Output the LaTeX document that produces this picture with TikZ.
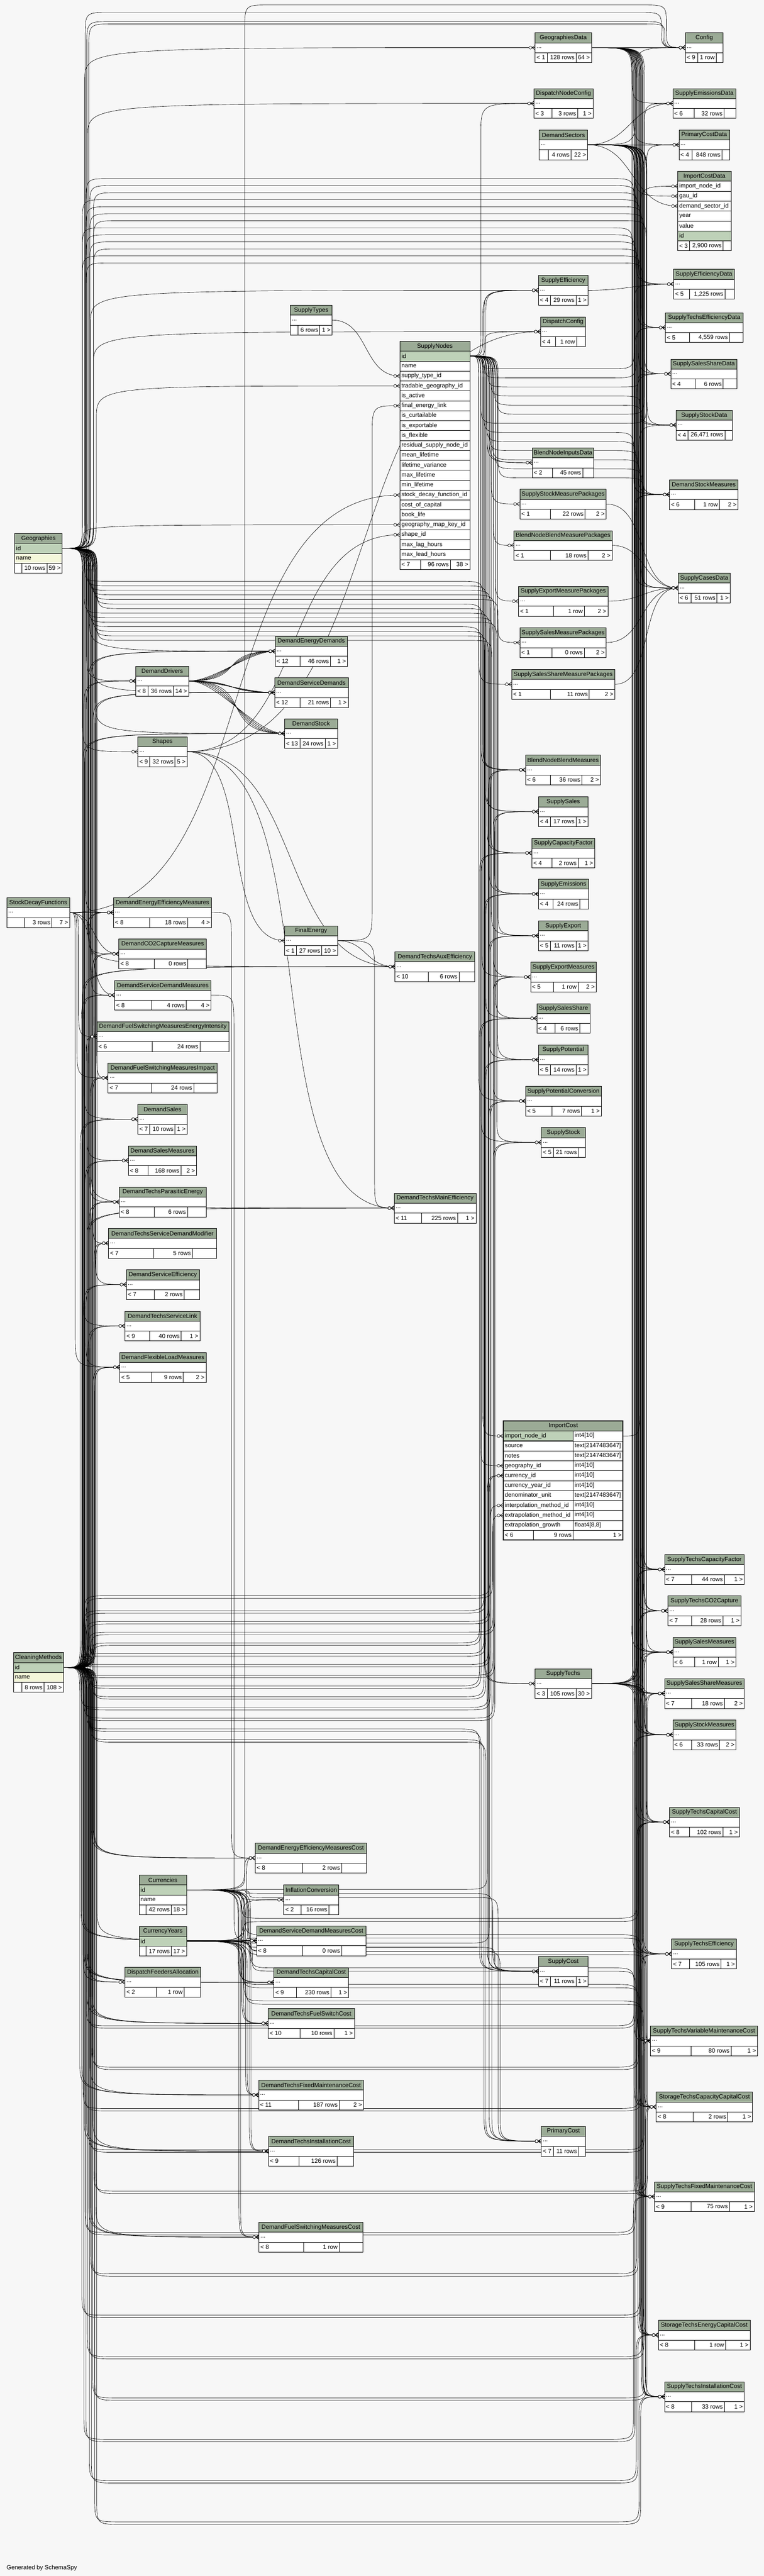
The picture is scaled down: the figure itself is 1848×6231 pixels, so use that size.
\documentclass[tikz,border=0pt]{standalone}
\usepackage{fontspec}
\setmainfont{Liberation Sans}
\usetikzlibrary{calc}
\definecolor{hdr}{HTML}{9BAB96}
\definecolor{pkey}{HTML}{BED1B8}
\definecolor{idx}{HTML}{F4F7DA}
\definecolor{paper}{HTML}{F7F7F7}
\pgfdeclarelayer{bg}
\pgfdeclarelayer{links}
\pgfsetlayers{bg,links,main}
\newcommand{\tabfont}{\fontsize{14.5}{17}\selectfont}
\tikzset{
  cell/.style={draw, line width=0.9pt, inner sep=0pt, minimum height=24pt, anchor=north west},
  txt/.style={inner sep=0pt},
  link/.style={line width=0.8pt},
  crow/.pic={\draw[link, fill=white] (-11,0) circle[radius=3.5pt];
             \draw[link] (-7.5,0) -- (0,-5) (-7.5,0) -- (0,0) (-7.5,0) -- (0,5);}
}
% one cell: name, x1, x2, top, fill
\newcommand{\tcell}[5]{%
  \pgfmathsetmacro\cw{#3-#2}%
  \node[cell, fill=#5, minimum width=\cw pt] (#1) at (#2,#4) {};}
% header: name, x1, x2, top
\newcommand{\thead}[4]{%
  \pgfmathsetmacro\cw{#3-#2}%
  \node[cell, fill=hdr, minimum width=\cw pt] (#1-head) at (#2,#4) {#1};}
% column row: name, x1, x2, top, fill, text
\newcommand{\trow}[6]{%
  \tcell{#1}{#2}{#3}{#4}{#5}%
  \node[txt, anchor=west] (#1-t) at ([xshift=4pt]#1.west) {#6};}
% footer: name, x1, d1, d2, x2, top, left, rows, right
\newcommand{\tfoot}[9]{%
  \tcell{#1-f1}{#2}{#3}{#6}{white}%
  \tcell{#1-f2}{#3}{#4}{#6}{white}%
  \tcell{#1-f3}{#4}{#5}{#6}{white}%
  \node[txt, anchor=west] (#1-fl) at ([xshift=4pt]#1-f1.west) {#7};%
  \node[txt, anchor=east] (#1-fm) at ([xshift=-4pt]#1-f2.east) {#8};%
  \node[txt, anchor=east] (#1-fr) at ([xshift=-4pt]#1-f3.east) {#9};}
% collapsed table: name, x1, top, x2, d1, d2, left, rows, right
\newcommand{\tbl}[9]{%
  \pgfmathsetmacro\cw{#4-#2}%
  \node[inner sep=0pt, minimum width=\cw pt, minimum height=72pt, anchor=north west] (#1) at (#2,#3) {};%
  \thead{#1}{#2}{#4}{#3}%
  \trow{#1-body}{#2}{#4}{#3+24}{white}{...}%
  \tfoot{#1}{#2}{#5}{#6}{#4}{#3+48}{#7}{#8}{#9}}
% link through one vertical bundle at x = #3
\newcommand{\fk}[3]{%
  \draw[link] let \p1=(#1), \p2=(#2),
      \n1={ifthenelse(\y2<\y1,-1,1)*min(80,abs(\y2-\y1)/2)} in
    (#1) .. controls (#3pt,\y1) .. (#3pt,{\y1+(\n1)})
    -- (#3pt,{\y2-(\n1)}) .. controls (#3pt,\y2) .. (#2);
  \path (#2) pic {crow};}
% link through two bundles (#3, #4), crossing over at height #5
\newcommand{\fkk}[5]{%
  \draw[link] let \p1=(#1), \p2=(#2),
      \n1={-#5*1pt-\y1},
      \n2={ifthenelse(\n1<0,-1,1)*min(60,abs(\n1)/2)},
      \n3={ifthenelse(\y2-\y1-(\n1)<0,-1,1)*min(60,abs(\y2-\y1-(\n1))/2)} in
    (#1) .. controls (#3pt,\y1) .. (#3pt,{\y1+(\n2)})
    -- (#3pt,{\y1+(\n1)-(\n2)}) .. controls (#3pt,{\y1+(\n1)}) .. ({#3pt+60pt},{\y1+(\n1)})
    -- ({#4pt-60pt},{\y1+(\n1)}) .. controls (#4pt,{\y1+(\n1)}) .. (#4pt,{\y1+(\n1)+(\n3)})
    -- (#4pt,{\y2-(\n3)}) .. controls (#4pt,\y2) .. (#2);
  \path (#2) pic {crow};}
% direct link
\newcommand{\fkc}[3][1]{%
  \draw[link] let \p1=(#2), \p2=(#3),
      \n1={#1*max(40,0.45*abs(\x2-\x1)+0.12*abs(\y2-\y1))} in
    (#2) .. controls +({\n1*1pt},0pt) and +({-\n1*1pt},0pt) .. (#3);
  \path (#3) pic {crow};}

\begin{document}
\begin{tikzpicture}[x=1pt, y=-1pt, every node/.style={font=\tabfont}]
  \useasboundingbox (0,0) rectangle (1848,6231);
  \begin{pgfonlayer}{bg}
    \fill[paper] (0,0) rectangle (1848,6231);
  \end{pgfonlayer}

  % place tables
  \thead{Geographies}{35}{150}{1290}
  \trow{Geographies-r1}{35}{150}{1314}{pkey}{id}
  \trow{Geographies-r2}{35}{150}{1338}{idx}{name}
  \tfoot{Geographies}{35}{52}{113}{150}{1362}{}{10 rows}{59 >}

  \thead{CleaningMethods}{32}{153}{3997}
  \trow{CleaningMethods-r1}{32}{153}{4021}{pkey}{id}
  \trow{CleaningMethods-r2}{32}{153}{4045}{idx}{name}
  \tfoot{CleaningMethods}{32}{52}{106}{153}{4069}{}{8 rows}{108 >}

  \thead{Currencies}{336}{451}{4535}
  \trow{Currencies-r1}{336}{451}{4559}{pkey}{id}
  \trow{Currencies-r2}{336}{451}{4583}{white}{name}
  \tfoot{Currencies}{336}{353}{414}{451}{4607}{}{42 rows}{18 >}

  \thead{CurrencyYears}{336}{451}{4659}
  \trow{CurrencyYears-r1}{336}{451}{4683}{pkey}{id}
  \tfoot{CurrencyYears}{336}{353}{414}{451}{4707}{}{17 rows}{17 >}

  \thead{SupplyNodes}{967}{1136}{825}
  \trow{SupplyNodes-r1}{967}{1136}{849}{pkey}{id}
  \foreach \fld [count=\i from 2, evaluate={\i as \yy using 825+24*\i}] in {name, supply\_type\_id,
      tradable\_geography\_id, is\_active, final\_energy\_link, is\_curtailable, is\_exportable,
      is\_flexible, residual\_supply\_node\_id, mean\_lifetime, lifetime\_variance, max\_lifetime,
      min\_lifetime, stock\_decay\_function\_id, cost\_of\_capital, book\_life,
      geography\_map\_key\_id, shape\_id, max\_lag\_hours, max\_lead\_hours}
    {\trow{SupplyNodes-r\i}{967}{1136}{\yy}{white}{\fld}}
  \tfoot{SupplyNodes}{967}{1017}{1089}{1136}{1353}{< 7}{96 rows}{38 >}

  \thead{ImportCost}{1217}{1507}{3437}
  \tcell{ImportCost-r1}{1217}{1507}{3461}{white}
  \draw[line width=0.9pt, fill=pkey] (1217,3461) rectangle (1386,3485);
  \node[txt, anchor=west] (ImportCost-r1-t) at ([xshift=4pt]ImportCost-r1.west) {import\_node\_id};
  \node[txt, anchor=west] (ImportCost-r1-y) at (1390,3473) {int4[10]};
  \foreach \fld/\typ [count=\i from 2, evaluate={\i as \yy using 3437+24*\i}] in {source/text[2147483647],
      notes/text[2147483647], geography\_id/int4[10], currency\_id/int4[10],
      currency\_year\_id/int4[10], denominator\_unit/text[2147483647],
      interpolation\_method\_id/int4[10], extrapolation\_method\_id/int4[10],
      extrapolation\_growth/{float4[8,8]}}
    {\trow{ImportCost-r\i}{1217}{1507}{\yy}{white}{\fld}
     \draw[line width=0.9pt] (1386,\yy) -- (1386,\yy+24);
     \node[txt, anchor=west] (ImportCost-r\i-y) at (1390,\yy+12) {\typ};}
  \tfoot{ImportCost}{1217}{1290}{1386}{1507}{3701}{< 6}{9 rows}{1 >}
  \draw[line width=2.5pt] (1217,3437) rectangle (1507,3725);

  \thead{ImportCostData}{1639}{1768}{414}
  \foreach \fld [count=\i, evaluate={\i as \yy using 414+24*\i}] in {import\_node\_id, gau\_id,
      demand\_sector\_id, year, value}
    {\trow{ImportCostData-r\i}{1639}{1768}{\yy}{white}{\fld}}
  \trow{ImportCostData-r6}{1639}{1768}{558}{pkey}{id}
  \tfoot{ImportCostData}{1639}{1668}{1749}{1768}{582}{< 3}{2,900 rows}{}

  \tbl{GeographiesData}{1294}{79}{1430}{1323}{1393}{< 1}{128 rows}{64 >}
  \tbl{Config}{1657}{79}{1749}{1687}{1732}{< 9}{1 row}{}
  \tbl{DispatchNodeConfig}{1291}{214}{1434}{1335}{1397}{< 3}{3 rows}{1 >}
  \tbl{SupplyEmissionsData}{1627}{214}{1780}{1679}{1751}{< 6}{32 rows}{}
  \tbl{DemandSectors}{1304}{314}{1421}{1326}{1381}{}{4 rows}{22 >}
  \tbl{PrimaryCostData}{1642}{314}{1764}{1674}{1746}{< 4}{848 rows}{}
  \tbl{SupplyEfficiencyData}{1629}{651}{1776}{1668}{1753}{< 5}{1,225 rows}{}
  \tbl{SupplyEfficiency}{1302}{666}{1422}{1331}{1393}{< 4}{29 rows}{1 >}
  \tbl{SupplyTechsEfficiencyData}{1609}{756}{1797}{1668}{1764}{< 5}{4,559 rows}{}
  \tbl{DispatchConfig}{1307}{766}{1416}{1344}{1394}{< 4}{1 row}{}
  \tbl{SupplySalesShareData}{1622}{868}{1782}{1681}{1749}{< 4}{6 rows}{}
  \tbl{SupplyStockData}{1635}{992}{1771}{1664}{1753}{< 4}{26,471 rows}{}
  \tbl{BlendNodeInputsData}{1287}{1083}{1436}{1336}{1409}{< 2}{45 rows}{}
  \tbl{DemandStockMeasures}{1619}{1160}{1785}{1680}{1740}{< 6}{1 row}{2 >}
  \tbl{SupplyStockMeasurePackages}{1257}{1183}{1466}{1331}{1415}{< 1}{22 rows}{2 >}
  \tbl{BlendNodeBlendMeasurePackages}{1243}{1283}{1480}{1331}{1422}{< 1}{18 rows}{2 >}
  \tbl{SupplyCasesData}{1640}{1386}{1766}{1671}{1734}{< 6}{51 rows}{1 >}
  \tbl{SupplyExportMeasurePackages}{1254}{1418}{1470}{1339}{1413}{< 1}{1 row}{2 >}
  \tbl{SupplySalesMeasurePackages}{1257}{1518}{1466}{1335}{1413}{< 1}{0 rows}{2 >}
  \tbl{SupplySalesShareMeasurePackages}{1237}{1619}{1487}{1331}{1425}{< 1}{11 rows}{2 >}
  \tbl{BlendNodeBlendMeasures}{1271}{1826}{1452}{1331}{1407}{< 6}{36 rows}{2 >}
  \tbl{SupplySales}{1302}{1927}{1422}{1331}{1393}{< 4}{17 rows}{1 >}
  \tbl{SupplyCapacityFactor}{1286}{2027}{1438}{1335}{1398}{< 4}{2 rows}{1 >}
  \tbl{SupplyEmissions}{1302}{2126}{1423}{1337}{1402}{< 4}{24 rows}{}
  \tbl{SupplyExport}{1302}{2227}{1422}{1331}{1393}{< 5}{11 rows}{1 >}
  \tbl{SupplyExportMeasures}{1283}{2327}{1442}{1339}{1398}{< 5}{1 row}{2 >}
  \tbl{SupplySalesShare}{1298}{2427}{1427}{1342}{1402}{< 4}{6 rows}{}
  \tbl{SupplyPotential}{1302}{2527}{1422}{1331}{1393}{< 5}{14 rows}{1 >}
  \tbl{SupplyPotentialConversion}{1271}{2627}{1454}{1335}{1406}{< 5}{7 rows}{1 >}
  \tbl{SupplyStock}{1309}{2727}{1416}{1338}{1399}{< 5}{21 rows}{}
  \tbl{SupplyTechsCapacityFactor}{1607}{3760}{1800}{1672}{1752}{< 7}{44 rows}{1 >}
  \tbl{SupplyTechsCO2Capture}{1615}{3860}{1792}{1672}{1748}{< 7}{28 rows}{1 >}
  \tbl{SupplySalesMeasures}{1627}{3960}{1780}{1680}{1737}{< 6}{1 row}{1 >}
  \tbl{SupplyTechs}{1294}{4036}{1430}{1323}{1393}{< 3}{105 rows}{30 >}
  \tbl{SupplySalesShareMeasures}{1607}{4060}{1800}{1672}{1752}{< 7}{18 rows}{2 >}
  \tbl{SupplyStockMeasures}{1627}{4160}{1780}{1672}{1740}{< 6}{33 rows}{2 >}
  \tbl{SupplyTechsCapitalCost}{1619}{4371}{1788}{1668}{1748}{< 8}{102 rows}{1 >}
  \tbl{SupplyTechsEfficiency}{1624}{4690}{1781}{1668}{1744}{< 7}{105 rows}{1 >}
  \tbl{SupplyCost}{1302}{4732}{1422}{1331}{1393}{< 7}{11 rows}{1 >}
  \tbl{SupplyTechsVariableMaintenanceCost}{1573}{4900}{1832}{1671}{1768}{< 9}{80 rows}{1 >}
  \tbl{StorageTechsCapacityCapitalCost}{1587}{5060}{1820}{1676}{1760}{< 8}{2 rows}{1 >}
  \tbl{PrimaryCost}{1309}{5143}{1416}{1338}{1399}{< 7}{11 rows}{}
  \tbl{SupplyTechsFixedMaintenanceCost}{1583}{5277}{1824}{1671}{1764}{< 9}{75 rows}{1 >}
  \tbl{StorageTechsEnergyCapitalCost}{1592}{5612}{1814}{1680}{1755}{< 8}{1 row}{1 >}
  \tbl{SupplyTechsInstallationCost}{1607}{5761}{1800}{1672}{1752}{< 8}{33 rows}{1 >}
  \tbl{DemandTechsAuxEfficiency}{955}{2302}{1148}{1035}{1110}{< 10}{6 rows}{}
  \tbl{DemandTechsMainEfficiency}{953}{2886}{1151}{1020}{1106}{< 11}{225 rows}{1 >}
  \tbl{SupplyTypes}{702}{738}{803}{720}{773}{}{6 rows}{1 >}
  \tbl{DemandEnergyDemands}{665}{1539}{840}{725}{799}{< 12}{46 rows}{1 >}
  \tbl{DemandServiceDemands}{664}{1639}{842}{725}{799}{< 12}{21 rows}{1 >}
  \tbl{DemandStock}{688}{1738}{816}{725}{786}{< 13}{24 rows}{1 >}
  \tbl{FinalEnergy}{688}{2239}{816}{717}{778}{< 1}{27 rows}{10 >}
  \tbl{DemandEnergyEfficiencyMeasuresCost}{617}{4458}{886}{731}{826}{< 8}{2 rows}{}
  \tbl{InflationConversion}{686}{4559}{819}{728}{795}{< 2}{16 rows}{}
  \tbl{DemandServiceDemandMeasuresCost}{620}{4658}{885}{732}{826}{< 8}{0 rows}{}
  \tbl{DemandTechsCapitalCost}{662}{4759}{843}{717}{800}{< 9}{230 rows}{1 >}
  \tbl{DemandTechsFuelSwitchCost}{648}{4858}{857}{725}{807}{< 10}{10 rows}{1 >}
  \tbl{DemandTechsFixedMaintenanceCost}{625}{5031}{879}{721}{820}{< 11}{187 rows}{2 >}
  \tbl{DemandTechsInstallationCost}{649}{5167}{855}{723}{815}{< 9}{126 rows}{}
  \tbl{DemandFuelSwitchingMeasuresCost}{626}{5375}{877}{734}{820}{< 8}{1 row}{}
  \tbl{DemandDrivers}{328}{1611}{456}{358}{419}{< 8}{36 rows}{14 >}
  \tbl{Shapes}{333}{1782}{452}{362}{423}{< 9}{32 rows}{5 >}
  \tbl{DemandEnergyEfficiencyMeasures}{274}{2171}{511}{362}{453}{< 8}{18 rows}{4 >}
  \tbl{DemandCO2CaptureMeasures}{287}{2271}{499}{373}{454}{< 8}{0 rows}{}
  \tbl{DemandServiceDemandMeasures}{277}{2371}{510}{366}{450}{< 8}{4 rows}{4 >}
  \tbl{DemandFuelSwitchingMeasuresEnergyIntensity}{234}{2471}{553}{368}{483}{< 6}{24 rows}{}
  \tbl{DemandFuelSwitchingMeasuresImpact}{261}{2571}{525}{367}{468}{< 7}{24 rows}{}
  \tbl{DemandSales}{333}{2671}{452}{362}{423}{< 7}{10 rows}{1 >}
  \tbl{DemandSalesMeasures}{310}{2771}{475}{358}{437}{< 8}{168 rows}{2 >}
  \tbl{DemandTechsParasiticEnergy}{288}{2871}{498}{373}{453}{< 8}{6 rows}{}
  \tbl{DemandTechsServiceDemandModifier}{262}{2971}{523}{371}{465}{< 7}{5 rows}{}
  \tbl{DemandServiceEfficiency}{305}{3071}{482}{373}{445}{< 7}{2 rows}{}
  \tbl{DemandTechsServiceLink}{302}{3171}{483}{362}{438}{< 9}{40 rows}{1 >}
  \tbl{DemandFlexibleLoadMeasures}{289}{3271}{498}{366}{443}{< 5}{9 rows}{2 >}
  \tbl{DispatchFeedersAllocation}{302}{4758}{485}{377}{445}{< 2}{1 row}{}
  \tbl{StockDecayFunctions}{16}{2171}{168}{59}{125}{}{3 rows}{7 >}

  \node[txt, anchor=west] (credit) at (16,6211) {Generated by SchemaSpy};

  % draw links
  \begin{pgfonlayer}{links}
  % Geographies
  \foreach \ch [count=\i, evaluate={\i as \tx using 198+mod(7*\i,38)}] in {GeographiesData.west,
      DispatchNodeConfig.west, SupplyEfficiency.west, DispatchConfig.west,
      SupplyNodes-r4.west, SupplyNodes-r18.west, DemandDrivers.west, DemandEnergyDemands.west,
      DemandServiceDemands.west, DemandStock.west, Shapes.west,
      DemandEnergyEfficiencyMeasures.west, DemandCO2CaptureMeasures.west,
      DemandServiceDemandMeasures.west, DemandFuelSwitchingMeasuresEnergyIntensity.west,
      DemandFuelSwitchingMeasuresImpact.west, DemandSales.west, DemandSalesMeasures.west,
      DemandTechsParasiticEnergy.west, DemandTechsServiceDemandModifier.west,
      DemandServiceEfficiency.west, DemandTechsServiceLink.west, DemandFlexibleLoadMeasures.west,
      DemandTechsAuxEfficiency.west, DemandTechsMainEfficiency.west,
      DemandEnergyEfficiencyMeasuresCost.west, DemandServiceDemandMeasuresCost.west,
      DemandTechsCapitalCost.west, DemandTechsFuelSwitchCost.west,
      DemandTechsFixedMaintenanceCost.west, DemandTechsInstallationCost.west,
      DemandFuelSwitchingMeasuresCost.west, DispatchFeedersAllocation.west}
    {\fk{Geographies-r1.east}{\ch}{\tx}}
  \fkk{Geographies-r1.east}{Config.west}{206}{1600}{30}
  \foreach \ch [count=\i, evaluate={\i as \tx using 200+mod(5*\i,36)},
      evaluate={\i as \ty using 1160+mod(9*\i,48)},
      evaluate={\i as \ry using 1395+11*\i}] in {BlendNodeBlendMeasures.west,
      SupplySales.west, SupplyCapacityFactor.west, SupplyEmissions.west, SupplyExport.west,
      SupplyExportMeasures.west, SupplySalesShare.west, SupplyPotential.west,
      SupplyPotentialConversion.west, SupplyStock.west, ImportCost-r4.west, SupplyTechs.west,
      SupplyCost.west, PrimaryCost.west}
    {\fkk{Geographies-r1.east}{\ch}{\tx}{\ty}{\ry}}
  \foreach \ch [count=\i, evaluate={\i as \tx using 199+mod(9*\i,36)},
      evaluate={\i as \ty using 1528+mod(5*\i,38)},
      evaluate={\i as \ry using 415+17*\i}] in {DemandStockMeasures.west,
      SupplyTechsCapacityFactor.west, SupplyTechsCO2Capture.west, SupplySalesMeasures.west,
      SupplySalesShareMeasures.west, SupplyStockMeasures.west, SupplyTechsCapitalCost.west,
      SupplyTechsEfficiency.west, SupplyTechsVariableMaintenanceCost.west,
      StorageTechsCapacityCapitalCost.west, SupplyTechsFixedMaintenanceCost.west,
      StorageTechsEnergyCapitalCost.west, SupplyTechsInstallationCost.west}
    {\fkk{Geographies-r1.east}{\ch}{\tx}{\ty}{\ry}}

  % CleaningMethods, two columns each
  \foreach \ch [count=\i, evaluate={\i as \tx using 192+mod(11*\i,36)},
      evaluate={\i as \tb using 197+mod(11*\i,36)}] in {DemandDrivers.west,
      DemandEnergyDemands.west, DemandServiceDemands.west, DemandStock.west,
      DemandEnergyEfficiencyMeasures.west, DemandCO2CaptureMeasures.west,
      DemandServiceDemandMeasures.west, DemandFuelSwitchingMeasuresEnergyIntensity.west,
      DemandFuelSwitchingMeasuresImpact.west, DemandSales.west, DemandSalesMeasures.west,
      DemandTechsParasiticEnergy.west, DemandTechsServiceDemandModifier.west,
      DemandServiceEfficiency.west, DemandTechsServiceLink.west, DemandFlexibleLoadMeasures.west,
      DemandTechsAuxEfficiency.west, DemandTechsMainEfficiency.west,
      DemandEnergyEfficiencyMeasuresCost.west, DemandServiceDemandMeasuresCost.west,
      DemandTechsCapitalCost.west, DemandTechsFuelSwitchCost.west,
      DemandTechsFixedMaintenanceCost.west, DemandTechsInstallationCost.west,
      DemandFuelSwitchingMeasuresCost.west}
    {\fk{CleaningMethods-r1.east}{\ch}{\tx}\fk{CleaningMethods-r1.east}{\ch}{\tb}}
  \fkk{CleaningMethods-r1.east}{Config.west}{210}{1604}{52}
  \fkk{CleaningMethods-r1.east}{Config.west}{215}{1608}{58}
  \foreach \ch [count=\i, evaluate={\i as \tx using 194+mod(7*\i,34)},
      evaluate={\i as \tb using 199+mod(7*\i,34)},
      evaluate={\i as \ty using 1160+mod(11*\i,44)},
      evaluate={\i as \tc using 1164+mod(11*\i,44)},
      evaluate={\i as \ry using 3870+26*\i},
      evaluate={\i as \rz using 3876+26*\i}] in {SupplyEfficiency.west,
      BlendNodeBlendMeasures.west, SupplySales.west, SupplyCapacityFactor.west,
      SupplyEmissions.west, SupplyExport.west, SupplyExportMeasures.west, SupplySalesShare.west,
      SupplyPotential.west, SupplyPotentialConversion.west, SupplyStock.west, SupplyCost.west,
      PrimaryCost.west}
    {\fkk{CleaningMethods-r1.east}{\ch}{\tx}{\ty}{\ry}
     \fkk{CleaningMethods-r1.east}{\ch}{\tb}{\tc}{\rz}}
  \foreach \ch [count=\i, evaluate={\i as \tx using 196+mod(13*\i,34)},
      evaluate={\i as \tb using 201+mod(13*\i,34)},
      evaluate={\i as \ty using 1527+mod(7*\i,36)},
      evaluate={\i as \tc using 1531+mod(7*\i,36)},
      evaluate={\i as \ry using 4800+100*\i},
      evaluate={\i as \rz using 4806+100*\i}] in {DemandStockMeasures.west,
      SupplyTechsCapacityFactor.west, SupplyTechsCO2Capture.west, SupplySalesMeasures.west,
      SupplySalesShareMeasures.west, SupplyStockMeasures.west, SupplyTechsCapitalCost.west,
      SupplyTechsEfficiency.west, SupplyTechsVariableMaintenanceCost.west,
      StorageTechsCapacityCapitalCost.west, SupplyTechsFixedMaintenanceCost.west,
      StorageTechsEnergyCapitalCost.west, SupplyTechsInstallationCost.west}
    {\fkk{CleaningMethods-r1.east}{\ch}{\tx}{\ty}{\ry}
     \fkk{CleaningMethods-r1.east}{\ch}{\tb}{\tc}{\rz}}
  \fkk{CleaningMethods-r1.east}{ImportCost-r8.west}{203}{1186}{3860}
  \fkk{CleaningMethods-r1.east}{ImportCost-r9.west}{208}{1192}{3866}
  \fk{CleaningMethods-r1.east}{DispatchFeedersAllocation.west}{214}

  % SupplyNodes
  \foreach \ch [count=\i, evaluate={\i as \tx using 1158+mod(5*\i,50)}] in {DispatchNodeConfig.west,
      SupplyEfficiency.west, DispatchConfig.west, BlendNodeInputsData.west, BlendNodeInputsData.west,
      SupplyStockMeasurePackages.west, BlendNodeBlendMeasurePackages.west,
      SupplyExportMeasurePackages.west, SupplySalesMeasurePackages.west,
      SupplySalesShareMeasurePackages.west, BlendNodeBlendMeasures.west, BlendNodeBlendMeasures.west,
      SupplySales.west, SupplyCapacityFactor.west, SupplyEmissions.west, SupplyExport.west,
      SupplyExportMeasures.west, SupplySalesShare.west, SupplyPotential.west,
      SupplyPotentialConversion.west, SupplyStock.west, ImportCost-r1.west, SupplyTechs.west,
      SupplyCost.west, PrimaryCost.west}
    {\fk{SupplyNodes-r1.east}{\ch}{\tx}}
  \foreach \ch [count=\i, evaluate={\i as \tx using 1160+mod(7*\i,46)},
      evaluate={\i as \ty using 1529+mod(5*\i,36)},
      evaluate={\i as \ry using 870+22*\i}] in {SupplyEfficiencyData.west,
      SupplyTechsEfficiencyData.west, SupplySalesShareData.west, SupplyStockData.west,
      SupplyCasesData.west, SupplyEmissionsData.west, PrimaryCostData.west,
      DemandStockMeasures.west, SupplySalesMeasures.west, SupplySalesShareMeasures.west,
      SupplyStockMeasures.west, SupplyTechsEfficiency.west, SupplyTechsCapacityFactor.west}
    {\fkk{SupplyNodes-r1.east}{\ch}{\tx}{\ty}{\ry}}

  % GeographiesData, DemandSectors, SupplyTechs
  \foreach \ch [count=\i, evaluate={\i as \tx using 1526+mod(3*\i,34)}] in {SupplyEmissionsData.west,
      PrimaryCostData.west, ImportCostData-r2.west, SupplyEfficiencyData.west,
      SupplyTechsEfficiencyData.west, SupplySalesShareData.west, SupplyStockData.west,
      SupplyCasesData.west, DemandStockMeasures.west, SupplyTechsCapacityFactor.west,
      SupplyTechsCO2Capture.west, SupplySalesMeasures.west, SupplySalesShareMeasures.west,
      SupplyStockMeasures.west, SupplyTechsCapitalCost.west, SupplyTechsEfficiency.west,
      SupplyTechsVariableMaintenanceCost.west, StorageTechsCapacityCapitalCost.west,
      SupplyTechsFixedMaintenanceCost.west, StorageTechsEnergyCapitalCost.west,
      SupplyTechsInstallationCost.west}
    {\fk{GeographiesData.east}{\ch}{\tx}}
  \fkc[0.6]{GeographiesData.east}{Config.west}
  \fkc[1.3]{GeographiesData.east}{Config.west}

  \foreach \ch [count=\i, evaluate={\i as \tx using 1530+mod(7*\i,36)}] in {Config.west,
      SupplyEfficiencyData.west, SupplyTechsEfficiencyData.west, SupplySalesShareData.west,
      SupplyStockData.west, SupplyCasesData.west, DemandStockMeasures.west,
      SupplyTechsCapacityFactor.west, SupplyTechsCO2Capture.west, SupplySalesMeasures.west,
      SupplySalesShareMeasures.west, SupplyStockMeasures.west, SupplyTechsCapitalCost.west,
      SupplyTechsEfficiency.west, SupplyTechsVariableMaintenanceCost.west,
      StorageTechsCapacityCapitalCost.west, SupplyTechsFixedMaintenanceCost.west,
      StorageTechsEnergyCapitalCost.west, SupplyTechsInstallationCost.west}
    {\fk{DemandSectors.east}{\ch}{\tx}}
  \fkc{DemandSectors.east}{SupplyEmissionsData.west}
  \fkc{DemandSectors.east}{PrimaryCostData.west}
  \fkc{DemandSectors.east}{ImportCostData-r3.west}

  \foreach \ch [count=\i, evaluate={\i as \tx using 1534+mod(5*\i,32)}] in {SupplyTechsCapacityFactor.west,
      SupplyTechsCO2Capture.west, SupplySalesMeasures.west, SupplySalesShareMeasures.west,
      SupplyStockMeasures.west, SupplyTechsCapitalCost.west, SupplyTechsEfficiency.west,
      SupplyTechsVariableMaintenanceCost.west, StorageTechsCapacityCapitalCost.west,
      SupplyTechsFixedMaintenanceCost.west, StorageTechsEnergyCapitalCost.west,
      SupplyTechsInstallationCost.west, SupplyTechsEfficiencyData.west, SupplySalesShareData.west,
      SupplyStockData.west}
    {\fk{SupplyTechs.east}{\ch}{\tx}}

  % Currencies and CurrencyYears
  \foreach \ch [count=\i, evaluate={\i as \tx using 574+mod(9*\i,34)}] in {InflationConversion.west,
      DemandEnergyEfficiencyMeasuresCost.west, DemandServiceDemandMeasuresCost.west,
      DemandTechsCapitalCost.west, DemandTechsFuelSwitchCost.west,
      DemandTechsFixedMaintenanceCost.west, DemandTechsInstallationCost.west,
      DemandFuelSwitchingMeasuresCost.west}
    {\fk{Currencies-r1.east}{\ch}{\tx}\fk{CurrencyYears-r1.east}{\ch}{\tx+4}}
  \foreach \ch [count=\i, evaluate={\i as \tx using 576+mod(9*\i,30)},
      evaluate={\i as \ty using 1166+mod(13*\i,40)},
      evaluate={\i as \ry using 4560+10*\i},
      evaluate={\i as \rz using 4690+10*\i}] in {ImportCost-r5.west, SupplyCost.west,
      PrimaryCost.west}
    {\fkk{Currencies-r1.east}{\ch}{\tx}{\ty}{\ry}\fkk{CurrencyYears-r1.east}{\ch}{\tx+5}{\ty+5}{\rz}}
  \foreach \ch [count=\i, evaluate={\i as \tx using 578+mod(7*\i,30)},
      evaluate={\i as \ty using 1532+mod(9*\i,34)},
      evaluate={\i as \ry using 4600+40*\i},
      evaluate={\i as \rz using 4608+40*\i}] in {SupplyTechsCapitalCost.west,
      SupplyTechsVariableMaintenanceCost.west, StorageTechsCapacityCapitalCost.west,
      SupplyTechsFixedMaintenanceCost.west, StorageTechsEnergyCapitalCost.west,
      SupplyTechsInstallationCost.west}
    {\fkk{Currencies-r1.east}{\ch}{\tx}{\ty}{\ry}\fkk{CurrencyYears-r1.east}{\ch}{\tx+4}{\ty+4}{\rz}}
  \fkk{Currencies-r1.east}{Config.west}{592}{1612}{12}

  % smaller tables
  \foreach \l in {0.6,0.8,1.0,1.2,1.4}
    {\fkc[\l]{DemandDrivers.east}{DemandEnergyDemands.west}
     \fkc[\l]{DemandDrivers.east}{DemandStock.west}}
  \foreach \l in {0.7,0.9,1.1,1.3}
    {\fkc[\l]{DemandDrivers.east}{DemandServiceDemands.west}}

  \foreach \m in {SupplyStockMeasurePackages, BlendNodeBlendMeasurePackages,
      SupplyExportMeasurePackages, SupplySalesMeasurePackages, SupplySalesShareMeasurePackages}
    {\fkc{\m.east}{SupplyCasesData.west}}

  \fkc{StockDecayFunctions.east}{DemandEnergyEfficiencyMeasures.west}
  \fkc{StockDecayFunctions.east}{DemandCO2CaptureMeasures.west}
  \fkc{StockDecayFunctions.east}{DemandServiceDemandMeasures.west}
  \fk{StockDecayFunctions.east}{DemandFuelSwitchingMeasuresEnergyIntensity.west}{190}
  \fk{StockDecayFunctions.east}{DemandFuelSwitchingMeasuresImpact.west}{186}
  \fk{StockDecayFunctions.east}{DemandFlexibleLoadMeasures.west}{182}
  \fkc{StockDecayFunctions.east}{SupplyNodes-r15.west}

  \fkc{Shapes.east}{FinalEnergy.west}
  \fkc{Shapes.east}{SupplyNodes-r19.west}
  \fkc{Shapes.east}{DemandTechsAuxEfficiency.west}
  \fkc{Shapes.east}{DemandTechsMainEfficiency.west}
  \fkc{Shapes.east}{DispatchConfig.west}

  \fk{FinalEnergy.east}{SupplyNodes-r6.west}{900}
  \fkc{FinalEnergy.east}{DemandTechsAuxEfficiency.west}
  \fk{FinalEnergy.east}{DemandTechsMainEfficiency.west}{906}

  \fkc{SupplyTypes.east}{SupplyNodes-r3.west}
  \fkc{SupplyEfficiency.east}{SupplyEfficiencyData.west}
  \fk{ImportCost-r1.east}{ImportCostData-r1.west}{1548}
  \fk{DemandEnergyEfficiencyMeasures.east}{DemandEnergyEfficiencyMeasuresCost.west}{560}
  \fk{DemandServiceDemandMeasures.east}{DemandServiceDemandMeasuresCost.west}{566}
  \end{pgfonlayer}
\end{tikzpicture}
\end{document}
